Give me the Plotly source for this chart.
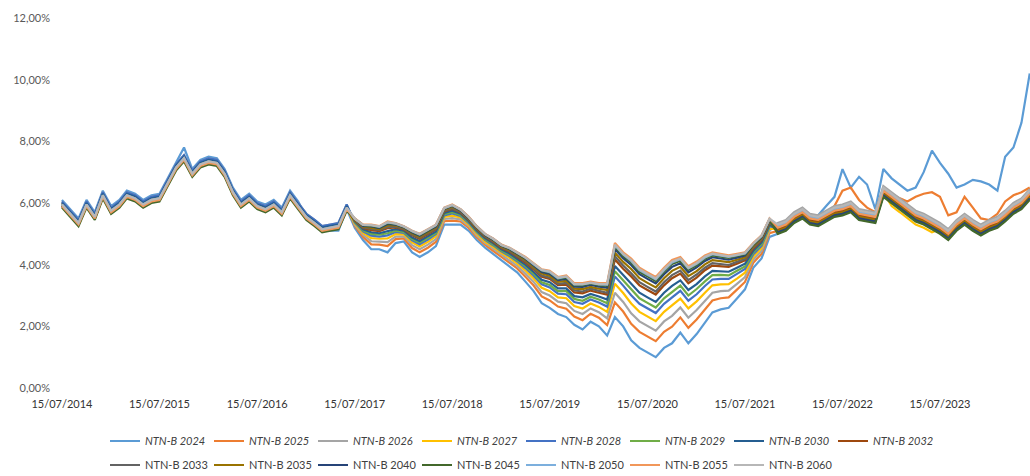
import plotly.graph_objects as go

# Monthly observation dates (mid-month), Jul 2014 .. Jun 2024
dates = [f"{2014 + (6 + i) // 12}-{(6 + i) % 12 + 1:02d}-15" for i in range(120)]

names = ["NTN-B 2024", "NTN-B 2025", "NTN-B 2026", "NTN-B 2027", "NTN-B 2028",
         "NTN-B 2029", "NTN-B 2030", "NTN-B 2032", "NTN-B 2033", "NTN-B 2035",
         "NTN-B 2040", "NTN-B 2045", "NTN-B 2050", "NTN-B 2055", "NTN-B 2060"]

colors = ["#5B9BD5", "#ED7D31", "#A5A5A5", "#FFC000", "#4472C4",
          "#70AD47", "#255E91", "#9E480E", "#636363", "#997300",
          "#264478", "#43682B", "#7CAFDD", "#F1975A", "#B7B7B7"]

x_tick_dates = ["2014-07-15", "2015-07-15", "2016-07-15", "2017-07-15", "2018-07-15",
                "2019-07-15", "2020-07-15", "2021-07-15", "2022-07-15", "2023-07-15"]
x_tick_text = ["15/07/2014", "15/07/2015", "15/07/2016", "15/07/2017", "15/07/2018",
               "15/07/2019", "15/07/2020", "15/07/2021", "15/07/2022", "15/07/2023"]
y_tick_vals = [0, 2, 4, 6, 8, 10, 12]
y_tick_text = ["0,00%", "2,00%", "4,00%", "6,00%", "8,00%", "10,00%", "12,00%"]

# Yields (% p.a.), monthly
ntnb_2024 = [6.1, 5.8, 5.5, 6.1, 5.7, 6.4, 5.9, 6.1, 6.4, 6.3,
             6.1, 6.25, 6.3, 6.8, 7.3, 7.8, 7.1, 7.4, 7.5, 7.45,
             7.1, 6.5, 6.1, 6.3, 6.05, 5.95, 6.1, 5.85, 6.4, 6.05,
             5.55, 5.3, 5.1, 5.1, 5.1, 5.8,
             5.2, 4.8, 4.5, 4.5, 4.4, 4.7, 4.75, 4.4, 4.25, 4.4,
             4.6, 5.3, 5.3, 5.3, 5.1, 4.8, 4.55, 4.35, 4.15, 3.95,
             3.75, 3.45, 3.15, 2.75, 2.6, 2.4, 2.3, 2.05, 1.9, 2.15,
             2.0, 1.7, 2.3, 2.0, 1.55, 1.3, 1.15, 1.0, 1.3, 1.45,
             1.8, 1.45, 1.75, 2.1, 2.45, 2.55, 2.6, 2.9, 3.2, 3.9,
             4.2, 4.9,
             5.0, 5.2, 5.5, 5.8, 5.6, 5.6, 5.9, 6.2, 7.1, 6.5,
             6.85, 6.6, 5.8, 7.1, 6.8, 6.6, 6.4, 6.5, 7.0, 7.7,
             7.3, 6.95, 6.5, 6.6, 6.75, 6.7, 6.6, 6.4, 7.5, 7.8,
             8.6, 10.2]

ntnb_2025 = [6.0, 5.7, 5.4, 6.0, 5.6, 6.3, 5.8, 6.0, 6.3, 6.2,
             6.0, 6.15, 6.2, 6.7, 7.2, 7.5, 7.0, 7.3, 7.4, 7.35,
             7.0, 6.4, 6.0, 6.2, 5.95, 5.85, 6.0, 5.75, 6.3, 5.95,
             5.6, 5.4, 5.2, 5.25, 5.3, 5.9,
             5.26, 4.9, 4.66, 4.65, 4.6, 4.83, 4.85, 4.54, 4.4, 4.55,
             4.74, 5.41, 5.43, 5.4, 5.19, 4.89, 4.64, 4.45, 4.25, 4.07,
             3.88, 3.61, 3.33, 2.97, 2.84, 2.64, 2.57, 2.32, 2.2, 2.41,
             2.28, 2.04, 2.78, 2.48, 2.08, 1.82, 1.67, 1.52, 1.82, 1.99,
             2.29, 1.95, 2.22, 2.54, 2.84, 2.91, 2.94, 3.19, 3.44, 4.06,
             4.35, 5.02,
             5.1, 5.3, 5.55, 5.75, 5.55, 5.5, 5.7, 5.9, 6.4, 6.5,
             6.1, 5.85, 5.7, 6.5, 6.3, 6.15, 6.05, 6.2, 6.3, 6.35,
             6.2, 5.6, 5.7, 6.2, 5.85, 5.5, 5.45, 5.65, 6.05, 6.25,
             6.35, 6.5]

ntnb_2026 = [6.05, 5.75, 5.45, 6.05, 5.65, 6.35, 5.85, 6.05, 6.35, 6.25,
             6.05, 6.2, 6.25, 6.75, 7.25, 7.55, 7.05, 7.35, 7.45, 7.4,
             7.05, 6.45, 6.05, 6.25, 6.0, 5.9, 6.05, 5.8, 6.35, 6.0,
             5.65, 5.45, 5.25, 5.3, 5.35, 5.95,
             5.30, 4.97, 4.76, 4.75, 4.73, 4.91, 4.92, 4.63, 4.5, 4.65,
             4.83, 5.48, 5.51, 5.47, 5.25, 4.95, 4.70, 4.52, 4.32, 4.15,
             3.96, 3.71, 3.45, 3.11, 3.0, 2.8, 2.75, 2.5, 2.4, 2.58,
             2.46, 2.26, 3.09, 2.79, 2.42, 2.16, 2.01, 1.86, 2.16, 2.34,
             2.61, 2.28, 2.53, 2.83, 3.09, 3.14, 3.16, 3.38, 3.6, 4.16,
             4.45, 5.1,
             5.35, 5.45, 5.7, 5.85, 5.65, 5.6, 5.75, 5.9, 5.95, 6.05,
             5.8, 5.75, 5.7, 6.55, 6.35, 6.15, 5.95, 5.75, 5.65, 5.5,
             5.35, 5.15, 5.45, 5.65, 5.45, 5.3, 5.45, 5.55, 5.75, 6.0,
             6.15, 6.45]

ntnb_2027 = [5.95, 5.65, 5.35, 5.95, 5.55, 6.25, 5.75, 5.95, 6.25, 6.15,
             5.95, 6.1, 6.15, 6.65, 7.15, 7.45, 6.95, 7.25, 7.35, 7.3,
             6.95, 6.35, 5.95, 6.15, 5.9, 5.8, 5.95, 5.7, 6.25, 5.9,
             5.55, 5.35, 5.15, 5.2, 5.25, 5.85,
             5.34, 5.03, 4.86, 4.84, 4.85, 4.99, 4.98, 4.72, 4.59, 4.74,
             4.92, 5.55, 5.59, 5.53, 5.3, 5.0, 4.75, 4.58, 4.38, 4.22,
             4.04, 3.81, 3.56, 3.25, 3.14, 2.94, 2.91, 2.66, 2.58, 2.74,
             2.63, 2.47, 3.38, 3.08, 2.74, 2.47, 2.32, 2.17, 2.47, 2.67,
             2.9, 2.58, 2.81, 3.09, 3.33, 3.36, 3.37, 3.55, 3.74, 4.26,
             4.54, 5.17,
             5.15, 5.25, 5.5, 5.65, 5.45, 5.4, 5.55, 5.7, 5.75, 5.85,
             5.6, 5.55, 5.5, 6.35, 5.9, 5.7, 5.5, 5.3, 5.2, 5.05,
             5.15, 4.95, 5.25, 5.45, 5.25, 5.1, 5.25, 5.35, 5.55, 5.8,
             5.95, 6.25]

ntnb_2028 = [6.05, 5.75, 5.45, 6.05, 5.65, 6.35, 5.85, 6.05, 6.35, 6.25,
             6.05, 6.2, 6.25, 6.75, 7.25, 7.55, 7.05, 7.35, 7.45, 7.4,
             7.05, 6.45, 6.05, 6.25, 6.0, 5.9, 6.05, 5.8, 6.35, 6.0,
             5.65, 5.45, 5.25, 5.3, 5.35, 5.95,
             5.37, 5.08, 4.94, 4.91, 4.95, 5.06, 5.03, 4.79, 4.66, 4.81,
             4.99, 5.6, 5.66, 5.58, 5.35, 5.05, 4.80, 4.63, 4.43, 4.28,
             4.11, 3.89, 3.65, 3.36, 3.26, 3.06, 3.04, 2.79, 2.73, 2.87,
             2.77, 2.64, 3.62, 3.32, 3.01, 2.73, 2.58, 2.43, 2.73, 2.94,
             3.15, 2.83, 3.04, 3.31, 3.52, 3.54, 3.54, 3.7, 3.86, 4.34,
             4.61, 5.23,
             5.25, 5.35, 5.6, 5.75, 5.55, 5.5, 5.65, 5.8, 5.85, 5.95,
             5.7, 5.65, 5.6, 6.45, 6.25, 6.05, 5.85, 5.65, 5.55, 5.4,
             5.25, 5.05, 5.35, 5.55, 5.35, 5.2, 5.35, 5.45, 5.65, 5.9,
             6.05, 6.35]

ntnb_2029 = [5.95, 5.65, 5.35, 5.95, 5.55, 6.25, 5.75, 5.95, 6.25, 6.15,
             5.95, 6.1, 6.15, 6.65, 7.15, 7.45, 6.95, 7.25, 7.35, 7.3,
             6.95, 6.35, 5.95, 6.15, 5.9, 5.8, 5.95, 5.7, 6.25, 5.9,
             5.55, 5.35, 5.15, 5.2, 5.25, 5.85,
             5.39, 5.11, 5.0, 4.97, 5.02, 5.1, 5.06, 4.83, 4.72, 4.87,
             5.03, 5.64, 5.7, 5.61, 5.38, 5.08, 4.83, 4.66, 4.46, 4.32,
             4.15, 3.95, 3.71, 3.43, 3.34, 3.14, 3.14, 2.89, 2.83, 2.96,
             2.87, 2.75, 3.79, 3.49, 3.19, 2.91, 2.76, 2.61, 2.91, 3.12,
             3.32, 3.0, 3.21, 3.46, 3.66, 3.67, 3.65, 3.8, 3.94, 4.4,
             4.67, 5.27,
             5.2, 5.3, 5.55, 5.7, 5.5, 5.45, 5.6, 5.75, 5.8, 5.9,
             5.65, 5.6, 5.55, 6.4, 6.2, 6.0, 5.8, 5.6, 5.5, 5.35,
             5.2, 5.0, 5.3, 5.5, 5.3, 5.15, 5.3, 5.4, 5.6, 5.85,
             6.0, 6.3]

ntnb_2030 = [6.0, 5.7, 5.4, 6.0, 5.6, 6.3, 5.8, 6.0, 6.3, 6.2,
             6.0, 6.15, 6.2, 6.7, 7.2, 7.5, 7.0, 7.3, 7.4, 7.35,
             7.0, 6.4, 6.0, 6.2, 5.95, 5.85, 6.0, 5.75, 6.3, 5.95,
             5.6, 5.4, 5.2, 5.25, 5.3, 5.9,
             5.41, 5.15, 5.05, 5.02, 5.09, 5.15, 5.1, 4.88, 4.77, 4.92,
             5.08, 5.68, 5.75, 5.65, 5.41, 5.11, 4.86, 4.70, 4.50, 4.36,
             4.2, 4.0, 3.77, 3.51, 3.43, 3.23, 3.23, 2.98, 2.94, 3.05,
             2.97, 2.87, 3.96, 3.66, 3.38, 3.09, 2.94, 2.79, 3.09, 3.31,
             3.49, 3.18, 3.37, 3.62, 3.8, 3.79, 3.77, 3.9, 4.03, 4.45,
             4.72, 5.31,
             5.1, 5.2, 5.45, 5.6, 5.4, 5.35, 5.5, 5.65, 5.7, 5.8,
             5.55, 5.5, 5.45, 6.3, 6.1, 5.9, 5.7, 5.5, 5.4, 5.25,
             5.1, 4.9, 5.2, 5.4, 5.2, 5.05, 5.2, 5.3, 5.5, 5.75,
             5.9, 6.2]

ntnb_2032 = [5.9, 5.6, 5.3, 5.9, 5.5, 6.2, 5.7, 5.9, 6.2, 6.1,
             5.9, 6.05, 6.1, 6.6, 7.1, 7.4, 6.9, 7.2, 7.3, 7.25,
             6.9, 6.3, 5.9, 6.1, 5.85, 5.75, 5.9, 5.65, 6.2, 5.85,
             5.5, 5.3, 5.1, 5.15, 5.2, 5.8,
             5.43, 5.19, 5.12, 5.09, 5.18, 5.21, 5.14, 4.95, 4.84, 4.99,
             5.15, 5.73, 5.81, 5.69, 5.45, 5.15, 4.90, 4.74, 4.54, 4.42,
             4.26, 4.07, 3.85, 3.61, 3.54, 3.34, 3.35, 3.1, 3.07, 3.16,
             3.09, 3.03, 4.17, 3.87, 3.62, 3.33, 3.18, 3.03, 3.33, 3.56,
             3.71, 3.4, 3.58, 3.82, 3.97, 3.95, 3.93, 4.03, 4.14, 4.52,
             4.79, 5.37,
             5.15, 5.25, 5.5, 5.65, 5.45, 5.4, 5.55, 5.7, 5.75, 5.85,
             5.6, 5.55, 5.5, 6.35, 6.15, 5.95, 5.75, 5.55, 5.45, 5.3,
             5.15, 4.95, 5.25, 5.45, 5.25, 5.1, 5.25, 5.35, 5.55, 5.8,
             5.95, 6.25]

ntnb_2033 = [5.95, 5.65, 5.35, 5.95, 5.55, 6.25, 5.75, 5.95, 6.25, 6.15,
             5.95, 6.1, 6.15, 6.65, 7.15, 7.45, 6.95, 7.25, 7.35, 7.3,
             6.95, 6.35, 5.95, 6.15, 5.9, 5.8, 5.95, 5.7, 6.25, 5.9,
             5.55, 5.35, 5.15, 5.2, 5.25, 5.85,
             5.45, 5.21, 5.16, 5.12, 5.22, 5.23, 5.16, 4.97, 4.87, 5.02,
             5.17, 5.75, 5.83, 5.71, 5.47, 5.17, 4.92, 4.76, 4.56, 4.44,
             4.28, 4.11, 3.89, 3.65, 3.58, 3.38, 3.41, 3.16, 3.13, 3.22,
             3.15, 3.09, 4.27, 3.97, 3.72, 3.43, 3.28, 3.13, 3.43, 3.66,
             3.81, 3.5, 3.68, 3.9, 4.05, 4.03, 3.99, 4.09, 4.18, 4.56,
             4.82, 5.39,
             5.05, 5.15, 5.4, 5.55, 5.35, 5.3, 5.45, 5.6, 5.65, 5.75,
             5.5, 5.45, 5.4, 6.25, 6.05, 5.85, 5.65, 5.45, 5.35, 5.2,
             5.05, 4.85, 5.15, 5.35, 5.15, 5.0, 5.15, 5.25, 5.45, 5.7,
             5.85, 6.15]

ntnb_2035 = [5.9, 5.6, 5.3, 5.9, 5.5, 6.2, 5.7, 5.9, 6.2, 6.1,
             5.9, 6.05, 6.1, 6.6, 7.1, 7.4, 6.9, 7.2, 7.3, 7.25,
             6.9, 6.3, 5.9, 6.1, 5.85, 5.75, 5.9, 5.65, 6.2, 5.85,
             5.5, 5.3, 5.1, 5.15, 5.2, 5.8,
             5.46, 5.24, 5.2, 5.15, 5.27, 5.27, 5.19, 5.01, 4.9, 5.05,
             5.21, 5.78, 5.87, 5.74, 5.49, 5.19, 4.94, 4.79, 4.59, 4.47,
             4.32, 4.15, 3.93, 3.71, 3.64, 3.44, 3.47, 3.22, 3.21, 3.28,
             3.22, 3.18, 4.39, 4.09, 3.86, 3.56, 3.41, 3.26, 3.56, 3.80,
             3.93, 3.63, 3.79, 4.01, 4.15, 4.12, 4.08, 4.16, 4.24, 4.6,
             4.85, 5.42,
             5.1, 5.2, 5.45, 5.6, 5.4, 5.35, 5.5, 5.65, 5.7, 5.8,
             5.55, 5.5, 5.45, 6.3, 6.1, 5.9, 5.7, 5.5, 5.4, 5.25,
             5.1, 4.9, 5.2, 5.4, 5.2, 5.05, 5.2, 5.3, 5.5, 5.75,
             5.9, 6.2]

ntnb_2040 = [5.9, 5.6, 5.3, 5.9, 5.5, 6.2, 5.7, 5.9, 6.2, 6.1,
             5.9, 6.05, 6.1, 6.6, 7.1, 7.4, 6.9, 7.2, 7.3, 7.25,
             6.9, 6.3, 5.9, 6.1, 5.85, 5.75, 5.9, 5.65, 6.2, 5.85,
             5.5, 5.3, 5.1, 5.15, 5.2, 5.8,
             5.48, 5.26, 5.24, 5.19, 5.32, 5.3, 5.21, 5.04, 4.94, 5.09,
             5.24, 5.81, 5.9, 5.76, 5.51, 5.21, 4.96, 4.81, 4.61, 4.5,
             4.35, 4.19, 3.98, 3.76, 3.7, 3.5, 3.54, 3.29, 3.28, 3.35,
             3.29, 3.26, 4.51, 4.21, 3.99, 3.69, 3.54, 3.39, 3.69, 3.93,
             4.05, 3.75, 3.91, 4.12, 4.24, 4.21, 4.16, 4.23, 4.3, 4.64,
             4.89, 5.45,
             5.05, 5.15, 5.4, 5.55, 5.35, 5.3, 5.45, 5.6, 5.65, 5.75,
             5.5, 5.45, 5.4, 6.25, 6.05, 5.85, 5.65, 5.45, 5.35, 5.2,
             5.05, 4.85, 5.15, 5.35, 5.15, 5.0, 5.15, 5.25, 5.45, 5.7,
             5.85, 6.15]

ntnb_2045 = [5.85, 5.55, 5.25, 5.85, 5.45, 6.15, 5.65, 5.85, 6.15, 6.05,
             5.85, 6.0, 6.05, 6.55, 7.05, 7.35, 6.85, 7.15, 7.25, 7.2,
             6.85, 6.25, 5.85, 6.05, 5.8, 5.7, 5.85, 5.6, 6.15, 5.8,
             5.45, 5.25, 5.05, 5.1, 5.15, 5.75,
             5.49, 5.28, 5.26, 5.21, 5.35, 5.32, 5.23, 5.07, 4.96, 5.11,
             5.27, 5.82, 5.92, 5.78, 5.53, 5.23, 4.98, 4.83, 4.63, 4.52,
             4.37, 4.21, 4.01, 3.8, 3.74, 3.54, 3.58, 3.33, 3.33, 3.39,
             3.33, 3.32, 4.58, 4.28, 4.07, 3.77, 3.62, 3.47, 3.77, 4.02,
             4.13, 3.83, 3.98, 4.19, 4.3, 4.26, 4.22, 4.28, 4.34, 4.66,
             4.91, 5.47,
             5.0, 5.1, 5.35, 5.5, 5.3, 5.25, 5.4, 5.55, 5.6, 5.7,
             5.45, 5.4, 5.35, 6.2, 6.0, 5.8, 5.6, 5.4, 5.3, 5.15,
             5.0, 4.8, 5.1, 5.3, 5.1, 4.95, 5.1, 5.2, 5.4, 5.65,
             5.8, 6.1]

ntnb_2050 = [5.95, 5.65, 5.35, 5.95, 5.55, 6.25, 5.75, 5.95, 6.25, 6.15,
             5.95, 6.1, 6.15, 6.65, 7.15, 7.45, 6.95, 7.25, 7.35, 7.3,
             6.95, 6.35, 5.95, 6.15, 5.9, 5.8, 5.95, 5.7, 6.25, 5.9,
             5.55, 5.35, 5.15, 5.2, 5.25, 5.85,
             5.49, 5.29, 5.28, 5.23, 5.37, 5.33, 5.24, 5.08, 4.98, 5.13,
             5.28, 5.83, 5.93, 5.79, 5.54, 5.24, 4.99, 4.84, 4.64, 4.53,
             4.38, 4.23, 4.02, 3.82, 3.76, 3.56, 3.61, 3.36, 3.36, 3.41,
             3.36, 3.35, 4.63, 4.33, 4.12, 3.82, 3.67, 3.52, 3.82, 4.07,
             4.18, 3.88, 4.03, 4.23, 4.34, 4.3, 4.25, 4.31, 4.36, 4.68,
             4.93, 5.48,
             5.25, 5.35, 5.6, 5.75, 5.55, 5.5, 5.65, 5.8, 5.85, 5.95,
             5.7, 5.65, 5.6, 6.45, 6.25, 6.05, 5.85, 5.65, 5.55, 5.4,
             5.25, 5.05, 5.35, 5.55, 5.35, 5.2, 5.35, 5.45, 5.65, 5.9,
             6.05, 6.35]

ntnb_2055 = [5.9, 5.6, 5.3, 5.9, 5.5, 6.2, 5.7, 5.9, 6.2, 6.1,
             5.9, 6.05, 6.1, 6.6, 7.1, 7.4, 6.9, 7.2, 7.3, 7.25,
             6.9, 6.3, 5.9, 6.1, 5.85, 5.75, 5.9, 5.65, 6.2, 5.85,
             5.5, 5.3, 5.1, 5.15, 5.2, 5.8,
             5.5, 5.3, 5.3, 5.25, 5.4, 5.35, 5.25, 5.1, 5.0, 5.15,
             5.3, 5.85, 5.95, 5.8, 5.55, 5.25, 5.0, 4.85, 4.65, 4.55,
             4.4, 4.25, 4.05, 3.85, 3.8, 3.6, 3.65, 3.4, 3.4, 3.45,
             3.4, 3.4, 4.7, 4.4, 4.2, 3.9, 3.75, 3.6, 3.9, 4.15,
             4.25, 3.95, 4.1, 4.3, 4.4, 4.35, 4.3, 4.35, 4.4, 4.7,
             4.95, 5.5,
             5.2, 5.3, 5.55, 5.7, 5.5, 5.45, 5.6, 5.75, 5.8, 5.9,
             5.65, 5.6, 5.55, 6.4, 6.2, 6.0, 5.8, 5.6, 5.5, 5.35,
             5.2, 5.0, 5.3, 5.5, 5.3, 5.15, 5.3, 5.4, 5.6, 5.85,
             6.0, 6.3]

ntnb_2060 = [5.95, 5.65, 5.35, 5.95, 5.55, 6.25, 5.75, 5.95, 6.25, 6.15,
             5.95, 6.1, 6.15, 6.65, 7.15, 7.45, 6.95, 7.25, 7.35, 7.3,
             6.95, 6.35, 5.95, 6.15, 5.9, 5.8, 5.95, 5.7, 6.25, 5.9,
             5.55, 5.35, 5.15, 5.2, 5.25, 5.85,
             5.49, 5.29, 5.28, 5.24, 5.38, 5.34, 5.24, 5.09, 4.99, 5.14,
             5.29, 5.84, 5.94, 5.79, 5.54, 5.24, 4.99, 4.84, 4.64, 4.54,
             4.39, 4.23, 4.03, 3.83, 3.78, 3.58, 3.62, 3.37, 3.37, 3.42,
             3.37, 3.37, 4.65, 4.35, 4.15, 3.85, 3.70, 3.55, 3.85, 4.10,
             4.2, 3.9, 4.05, 4.26, 4.36, 4.31, 4.27, 4.32, 4.38, 4.68,
             4.94, 5.49,
             5.3, 5.4, 5.65, 5.8, 5.6, 5.55, 5.7, 5.85, 5.9, 6.0,
             5.75, 5.7, 5.65, 6.5, 6.3, 6.1, 5.9, 5.7, 5.6, 5.45,
             5.3, 5.1, 5.4, 5.6, 5.4, 5.25, 5.4, 5.5, 5.7, 5.95,
             6.1, 6.4]

series = [ntnb_2024, ntnb_2025, ntnb_2026, ntnb_2027, ntnb_2028,
          ntnb_2029, ntnb_2030, ntnb_2032, ntnb_2033, ntnb_2035,
          ntnb_2040, ntnb_2045, ntnb_2050, ntnb_2055, ntnb_2060]

FONT = "Lato, 'Open Sans', sans-serif"

fig = go.Figure()
for i, (name, vals, col) in enumerate(zip(names, series, colors)):
    fig.add_trace(go.Scatter(
        x=dates[:len(vals)], y=vals, name=name, mode="lines",
        line=dict(color=col, width=2.2),
        legend="legend" if i < 8 else "legend2",
    ))

fig.update_layout(
    width=1030, height=476,
    margin=dict(l=55, r=0, t=18, b=88),
    paper_bgcolor="white", plot_bgcolor="white",
    font=dict(family=FONT, color="#404040"),
    xaxis=dict(
        type="date", range=["2014-06-19", "2024-06-16"],
        tickmode="array", tickvals=x_tick_dates, ticktext=x_tick_text,
        showgrid=False, zeroline=False, showline=False, ticks="",
        tickfont=dict(size=11, color="#333333"), ticklabelstandoff=8,
    ),
    yaxis=dict(
        range=[0, 12], tickmode="array", tickvals=y_tick_vals, ticktext=y_tick_text,
        showgrid=False, zeroline=False, showline=False, ticks="",
        tickfont=dict(size=11, color="#595959"), ticklabelstandoff=4,
    ),
    legend=dict(
        orientation="h", xref="container", yref="container",
        x=105 / 1030, y=1 - 441 / 476, xanchor="left", yanchor="middle",
        entrywidth=59, font=dict(size=11, color="#404040", style="italic"),
        bgcolor="rgba(0,0,0,0)", tracegroupgap=0,
    ),
    legend2=dict(
        orientation="h", xref="container", yref="container",
        x=105 / 1030, y=1 - 465 / 476, xanchor="left", yanchor="middle",
        entrywidth=59, font=dict(size=11, color="#404040"),
        bgcolor="rgba(0,0,0,0)", tracegroupgap=0,
    ),
    showlegend=True,
)

fig.write_html("out.html", post_script="document.body.style.margin='0px';",
               config={"displayModeBar": False})
